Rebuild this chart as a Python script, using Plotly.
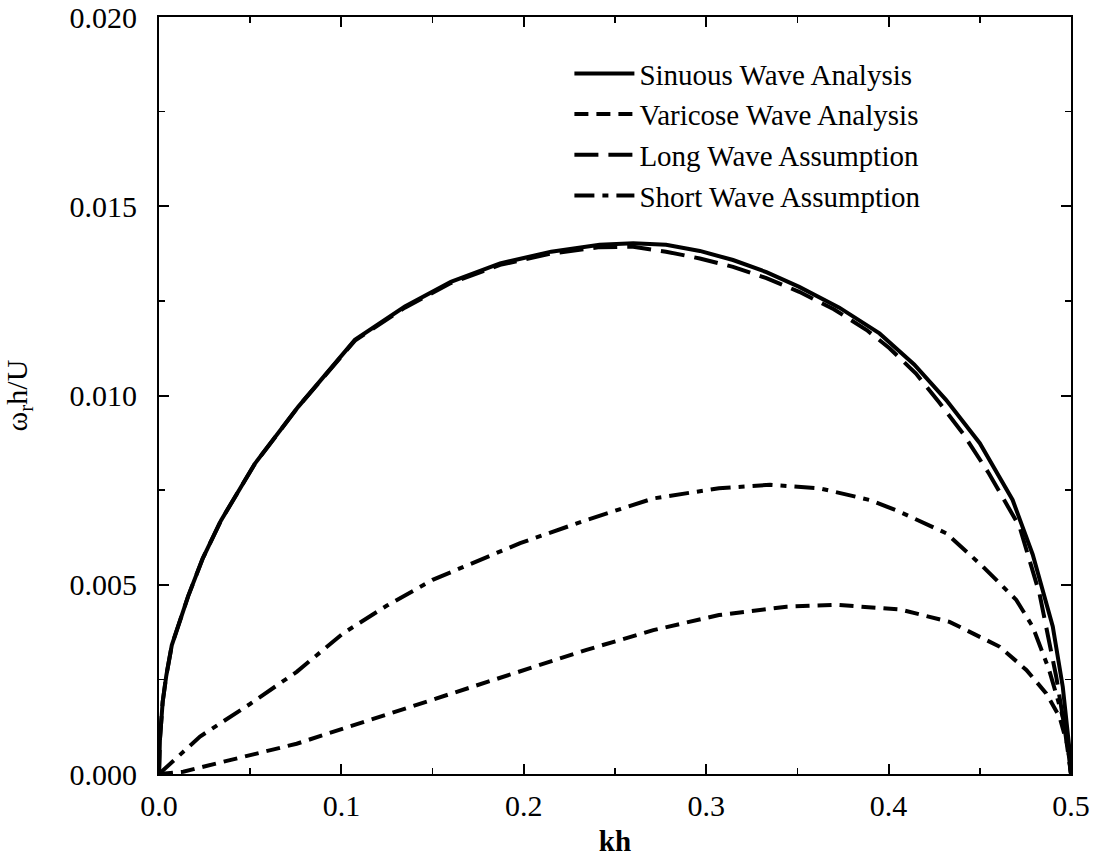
import plotly.graph_objects as go

# Sinuous wave analysis (solid)
kh_sin = [0, 0.0005, 0.002, 0.004, 0.007, 0.011, 0.016, 0.024, 0.034, 0.0526, 0.0763, 0.1074,
          0.1348, 0.16, 0.187, 0.215, 0.2416, 0.26, 0.278, 0.2965, 0.3147, 0.333, 0.351, 0.373,
          0.395, 0.414, 0.4316, 0.450, 0.468, 0.479, 0.4846, 0.490, 0.4955, 0.4983, 0.4995, 0.5]
w_sin = [0, 0.0009, 0.0019, 0.0026, 0.0034, 0.0040, 0.0047, 0.0057, 0.0067, 0.0082, 0.0097,
         0.01147, 0.01235, 0.01300, 0.01349, 0.01380, 0.01398, 0.01402, 0.01398, 0.01382,
         0.01358, 0.01326, 0.01287, 0.01232, 0.01164, 0.01082, 0.00988, 0.00874, 0.00724,
         0.0058, 0.0048, 0.0039, 0.0023, 0.0011, 0.0005, 0]

# Varicose wave analysis (short dash)
kh_var = [0, 0.0133, 0.0316, 0.0499, 0.0755, 0.101, 0.150, 0.198, 0.2344, 0.271, 0.307, 0.344,
          0.371, 0.406, 0.4334, 0.461, 0.4755, 0.4864, 0.4937, 0.4983, 0.5]
w_var = [0, 0.00006, 0.00028, 0.0005, 0.0008, 0.0012, 0.00196, 0.0027, 0.00328, 0.0038, 0.0042,
         0.00442, 0.00447, 0.00435, 0.00402, 0.00336, 0.00275, 0.00213, 0.00151, 0.00072, 0]

# Long wave assumption (long dash)
kh_long = [0, 0.0005, 0.002, 0.004, 0.007, 0.011, 0.016, 0.024, 0.034, 0.0526, 0.0763, 0.1074,
           0.1348, 0.16, 0.187, 0.215, 0.2416, 0.26, 0.278, 0.2965, 0.3147, 0.333, 0.351, 0.370,
           0.388, 0.4005, 0.415, 0.428, 0.4407, 0.455, 0.4718, 0.4827, 0.4919, 0.4964, 0.5]
w_long = [0, 0.0009, 0.0019, 0.0026, 0.0034, 0.0040, 0.0047, 0.0057, 0.0067, 0.0082, 0.0097,
          0.01145, 0.01232, 0.01297, 0.01345, 0.01375, 0.01392, 0.01393, 0.0138, 0.01362,
          0.0134, 0.0131, 0.01274, 0.01228, 0.01173, 0.01125, 0.01058, 0.0098, 0.0090, 0.00794,
          0.00653, 0.00477, 0.00257, 0.00125, 0]

# Short wave assumption (dash-dot)
kh_short = [0, 0.0225, 0.0499, 0.0755, 0.101, 0.125, 0.150, 0.175, 0.198, 0.2344, 0.271, 0.307,
            0.335, 0.362, 0.3896, 0.406, 0.4316, 0.4517, 0.47, 0.479, 0.488, 0.4955, 0.4983, 0.5]
w_short = [0, 0.00099, 0.00185, 0.0027, 0.00372, 0.00445, 0.00513, 0.00565, 0.0061, 0.00671,
           0.00728, 0.00755, 0.00764, 0.00755, 0.00724, 0.00693, 0.00636, 0.00548, 0.0046,
           0.00389, 0.00275, 0.00151, 0.0007, 0]

names = ["Sinuous Wave Analysis", "Varicose Wave Analysis", "Long Wave Assumption",
         "Short Wave Assumption"]

FONT = "Liberation Serif, Times New Roman, serif"

fig = go.Figure()
series = [
    (kh_sin, w_sin, names[0], "solid"),
    (kh_var, w_var, names[1], "14px,8px"),
    (kh_long, w_long, names[2], "24px,10px"),
    (kh_short, w_short, names[3], "20px,8px,6px,8px"),
]
for x, y, n, d in series:
    fig.add_trace(go.Scatter(x=x, y=y, name=n, mode="lines",
                             line=dict(color="black", width=4, dash=d),
                             hoverinfo="skip"))

axis_common = dict(
    showline=True, linecolor="black", linewidth=2, mirror="ticks",
    ticks="inside", ticklen=10, tickwidth=2, tickcolor="black",
    showgrid=False, zeroline=False, automargin=False,
    ticklabeloverflow="allow",
    tickfont=dict(family=FONT, size=30, color="black"),
)

fig.update_xaxes(range=[0, 0.5], dtick=0.1, tick0=0, tickformat=".1f",
                 minor=dict(dtick=0.05, ticks="inside", ticklen=6, tickwidth=1.5,
                            tickcolor="black"),
                 ticklabelstandoff=4,
                 title=dict(text="<b>kh</b>", font=dict(family=FONT, size=29, color="black"),
                            standoff=10),
                 **axis_common)
fig.update_yaxes(range=[0, 0.020], dtick=0.005, tick0=0, tickformat=".3f",
                 minor=dict(dtick=0.0025, ticks="inside", ticklen=6, tickwidth=1.5,
                            tickcolor="black"),
                 ticklabelstandoff=14,
                 title=dict(text="ω<sub>r</sub>h/U",
                            font=dict(family=FONT, size=30, color="black"), standoff=38),
                 **axis_common)

fig.update_layout(
    width=1094, height=862,
    margin=dict(l=159, r=23, t=17, b=88),
    paper_bgcolor="white", plot_bgcolor="white",
    font=dict(family=FONT, size=28, color="black"),
    showlegend=True,
    legend=dict(x=0.45, y=0.959, xanchor="left", yanchor="top",
                bgcolor="rgba(0,0,0,0)", borderwidth=0,
                font=dict(family=FONT, size=29, color="black"),
                tracegroupgap=0, itemwidth=60),
)

fig.write_html("out.html",
               config={"displayModeBar": False, "staticPlot": True},
               post_script="document.body.style.margin='0';"
                           "document.body.style.overflow='hidden';")
